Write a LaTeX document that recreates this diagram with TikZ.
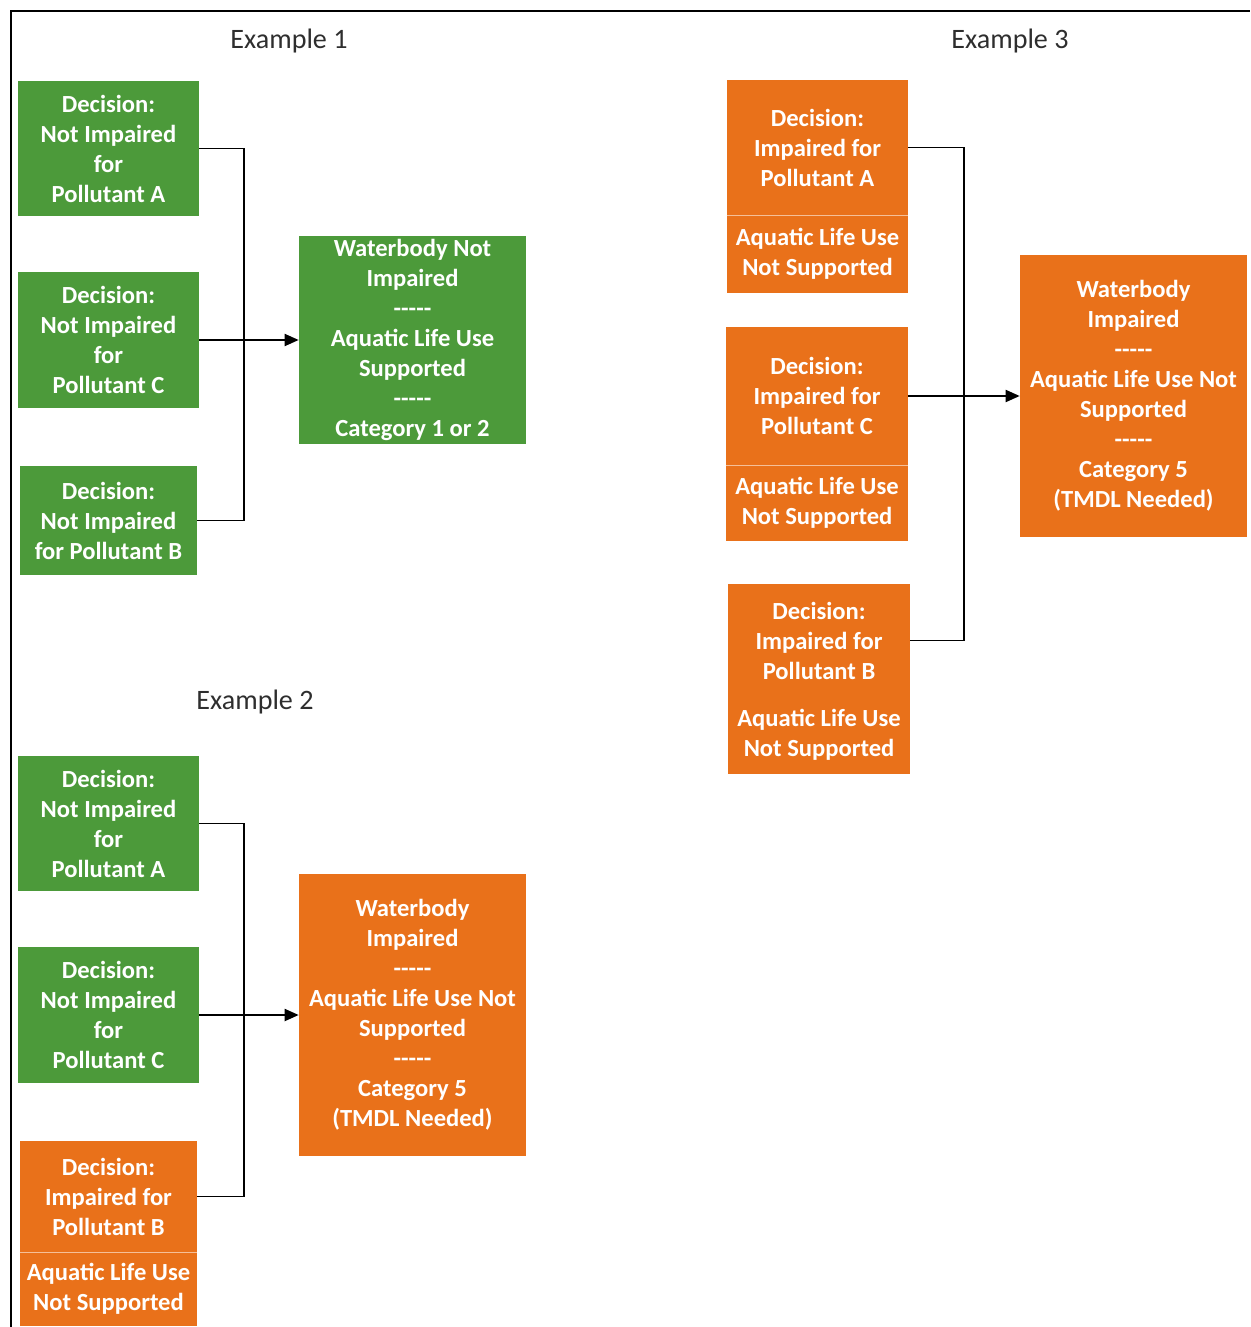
\documentclass[tikz,border=0pt]{standalone}
\usepackage{fontspec}
\setmainfont{Carlito}
\usetikzlibrary{arrows.meta}
\definecolor{grn}{HTML}{4C9A3A}
\definecolor{org}{HTML}{E9711A}
\definecolor{ttl}{HTML}{2E2E2E}
\tikzset{
  box/.style={inner sep=0pt, align=center, text=white,
    font=\bfseries\fontsize{14}{17.07}\selectfont},
  gbox/.style={box, fill=grn},
  obox/.style={box, fill=org},
  title/.style={text=ttl, font=\fontsize{16}{19}\selectfont},
  conn/.style={line width=1.1pt, black},
  arr/.style={conn, -{Triangle[length=0.28cm,width=0.24cm]}},
  divider/.style={line width=0.8pt, org!45!white},
  frame/.style={line width=1.2pt, black}
}
\newcommand{\dsh}{-{}-{}-{}-{}-}
\begin{document}
\begin{tikzpicture}[x=0.02cm,y=-0.02cm]
\useasboundingbox (0,0) rectangle (1250,1327);
% frame
\coordinate (f0) at (11,1327);
\coordinate (f1) at (11,11);
\coordinate (f2) at (1250,11);
\draw[frame] (f0) -- (f1) -- (f2);

% titles
\node[title] (t1) at (289,41) {Example 1};
\node[title] (t2) at (255,702) {Example 2};
\node[title] (t3) at (1010,41) {Example 3};

% ---------- Example 1 ----------
\node[gbox, minimum width=3.62cm, minimum height=2.70cm] (A1) at (108.5,148.5)
  {Decision:\\Not Impaired\\for\\Pollutant A};
\node[gbox, minimum width=3.62cm, minimum height=2.72cm] (C1) at (108.5,340)
  {Decision:\\Not Impaired\\for\\Pollutant C};
\node[gbox, minimum width=3.54cm, minimum height=2.18cm] (B1) at (108.5,520.5)
  {Decision:\\Not Impaired\\for Pollutant B};
\node[gbox, minimum width=4.54cm, minimum height=4.16cm] (R1) at (412.5,340)
  {Waterbody Not\\Impaired\\\dsh\\Aquatic Life Use\\Supported\\\dsh\\Category 1 or 2};
\coordinate (j1) at (244,340);
\draw[conn] (A1.east) -| (j1) |- (B1.east);
\draw[arr] (C1.east) -- (R1.west);

% ---------- Example 2 ----------
\node[gbox, minimum width=3.62cm, minimum height=2.70cm] (A2) at (108.5,823.5)
  {Decision:\\Not Impaired\\for\\Pollutant A};
\node[gbox, minimum width=3.62cm, minimum height=2.72cm] (C2) at (108.5,1015)
  {Decision:\\Not Impaired\\for\\Pollutant C};
\node[obox, minimum width=3.54cm, minimum height=2.22cm] (B2) at (108.5,1196.5)
  {Decision:\\Impaired for\\Pollutant B};
\node[obox, minimum width=3.54cm, minimum height=1.46cm, anchor=north] (B2b) at (B2.south)
  {Aquatic Life Use\\Not Supported};
\draw[divider] (B2.south west) -- (B2.south east);
\node[obox, minimum width=4.54cm, minimum height=5.64cm] (R2) at (412.5,1015)
  {Waterbody\\Impaired\\\dsh\\Aquatic Life Use Not\\Supported\\\dsh\\Category 5\\(TMDL Needed)};
\coordinate (j2) at (244,1015);
\draw[conn] (A2.east) -| (j2) |- (B2.east);
\draw[arr] (C2.east) -- (R2.west);

% ---------- Example 3 ----------
\node[obox, minimum width=3.62cm, minimum height=2.70cm] (A3) at (817.5,147.5)
  {Decision:\\Impaired for\\Pollutant A};
\node[obox, minimum width=3.62cm, minimum height=1.54cm, anchor=north] (A3b) at (A3.south)
  {Aquatic Life Use\\Not Supported};
\draw[divider] (A3.south west) -- (A3.south east);
\node[obox, minimum width=3.64cm, minimum height=2.76cm] (C3) at (817,396)
  {Decision:\\Impaired for\\Pollutant C};
\node[obox, minimum width=3.64cm, minimum height=1.50cm, anchor=north] (C3b) at (C3.south)
  {Aquatic Life Use\\Not Supported};
\draw[divider] (C3.south west) -- (C3.south east);
\node[obox, minimum width=3.64cm, minimum height=2.26cm] (B3) at (819,640.5)
  {Decision:\\Impaired for\\Pollutant B};
\node[obox, minimum width=3.64cm, minimum height=1.56cm, anchor=north] (B3b) at ([yshift=1.2pt]B3.south)
  {Aquatic Life Use\\Not Supported};
\node[obox, minimum width=4.54cm, minimum height=5.64cm] (R3) at (1133.5,396)
  {Waterbody\\Impaired\\\dsh\\Aquatic Life Use Not\\Supported\\\dsh\\Category 5\\(TMDL Needed)};
\coordinate (j3) at (964,396);
\draw[conn] (A3.east) -| (j3) |- (B3.east);
\draw[arr] (C3.east) -- (R3.west);
\end{tikzpicture}
\end{document}
